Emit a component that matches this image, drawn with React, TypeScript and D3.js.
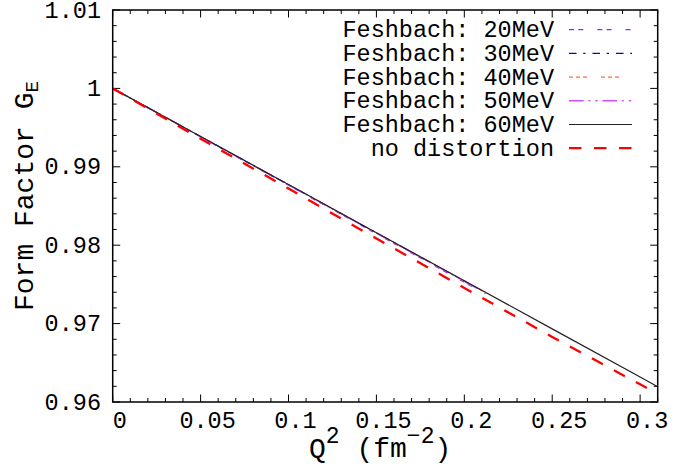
import React from "react";
import * as d3 from "d3";

// ---- data ----
const xTicks = [0, 0.05, 0.1, 0.15, 0.2, 0.25, 0.3];
const xTickLabels = ["0", "0.05", "0.1", "0.15", "0.2", "0.25", "0.3"];
const yTicks = [0.96, 0.97, 0.98, 0.99, 1.0, 1.01];
const yTickLabels = ["0.96", "0.97", "0.98", "0.99", "1", "1.01"];

const q2Fesh20 = [0, 0.05, 0.1, 0.15, 0.2, 0.212];
const geFesh20 = [1.0, 0.99382, 0.98764, 0.98146, 0.97528, 0.9738];
const q2Fesh30 = [0, 0.05, 0.1, 0.15, 0.2, 0.21];
const geFesh30 = [1.0, 0.99386, 0.98771, 0.98157, 0.97542, 0.9742];
const q2Fesh40 = [0, 0.05, 0.1, 0.15, 0.2, 0.21];
const geFesh40 = [1.0, 0.99386, 0.98772, 0.98158, 0.97544, 0.97421];
const q2Fesh50 = [0, 0.05, 0.1, 0.15, 0.2, 0.21];
const geFesh50 = [1.0, 0.99385, 0.9877, 0.98155, 0.9754, 0.97417];
const q2Fesh60 = [0, 0.05, 0.1, 0.15, 0.2, 0.25, 0.3, 0.31];
const geFesh60 = [1.0, 0.99387, 0.98773, 0.9816, 0.97546, 0.96933, 0.96319, 0.96195];
const q2NoDist = [0, 0.05, 0.1, 0.15, 0.2, 0.25, 0.3, 0.305];
const geNoDist = [1.0, 0.99358, 0.98722, 0.98085, 0.97455, 0.9683, 0.96225, 0.96165];

const seriesNames = [
  "Feshbach: 20MeV",
  "Feshbach: 30MeV",
  "Feshbach: 40MeV",
  "Feshbach: 50MeV",
  "Feshbach: 60MeV",
  "no distortion",
];

const styles = [
  { color: "#9a28e0", dash: "5 4.3 5 14", width: 1.2 },
  { color: "#0808b8", dash: "7.5 6.7 2.3 7", width: 1.2 },
  { color: "#ff6a45", dash: "4 3 4 3 4 14", width: 1.2 },
  { color: "#d050f8", dash: "14.7 4.7 2 5 2.3 4.7", width: 1.6 },
  { color: "#222222", dash: "", width: 1.2 },
  { color: "#ff0000", dash: "12.5 12.5", width: 2.3 },
];

const seriesData = [
  [q2Fesh20, geFesh20],
  [q2Fesh30, geFesh30],
  [q2Fesh40, geFesh40],
  [q2Fesh50, geFesh50],
  [q2Fesh60, geFesh60],
  [q2NoDist, geNoDist],
];

const W = 696;
const H = 467;
const L = 112.7;
const R = 657.7;
const T = 10;
const B = 402;
const FONT = "'Courier New', Courier, 'Nimbus Mono PS', 'Liberation Mono', monospace";

export default function App() {
  const x = d3.scaleLinear().domain([0, 0.31]).range([L, R]);
  const y = d3.scaleLinear().domain([0.96, 1.01]).range([B, T]);

  const line = d3
    .line<[number, number]>()
    .x((d) => x(d[0]))
    .y((d) => y(d[1]));

  const xMinor = d3.range(0, 32).map((i) => i * 0.01).filter((v) => v <= 0.31 + 1e-9);
  const yMinor = d3.range(0, 26).map((i) => 0.96 + i * 0.002);

  const isMajorX = (v: number) => Math.abs(v * 20 - Math.round(v * 20)) < 1e-6;
  const isMajorY = (v: number) => Math.abs(v * 100 - Math.round(v * 100)) < 1e-6;

  const legendY0 = 29.7;
  const legendDy = 23.7;

  return (
    <div style={{ position: "absolute", left: 0, top: 0 }}>
      <svg width={W} height={H} style={{ display: "block", background: "#fff" }}>
        <rect x={0} y={0} width={W} height={H} fill="#fff" />
        <defs>
          <clipPath id="plot">
            <rect x={L} y={T} width={R - L} height={B - T} />
          </clipPath>
        </defs>

        {/* ticks */}
        {xMinor.map((v, i) => {
          const len = isMajorX(v) ? 7.5 : 4;
          const px = x(v);
          return (
            <g key={"xt" + i} stroke="#000" strokeWidth={1}>
              <line x1={px} x2={px} y1={B} y2={B - len} />
              <line x1={px} x2={px} y1={T} y2={T + len} />
            </g>
          );
        })}
        {yMinor.map((v, i) => {
          const len = isMajorY(v) ? 7.5 : 4;
          const py = y(v);
          return (
            <g key={"yt" + i} stroke="#000" strokeWidth={1}>
              <line x1={L} x2={L + len} y1={py} y2={py} />
              <line x1={R} x2={R - len} y1={py} y2={py} />
            </g>
          );
        })}

        {/* tick labels */}
        {xTicks.map((v, i) => (
          <text
            key={"xl" + i}
            x={x(v) + 7}
            y={428}
            textAnchor="middle"
            fontFamily={FONT}
            fontSize={23.5}
            fill="#000"
          >
            {xTickLabels[i]}
          </text>
        ))}
        {yTicks.map((v, i) => (
          <text
            key={"yl" + i}
            x={101}
            y={y(v) + 7.5}
            textAnchor="end"
            fontFamily={FONT}
            fontSize={23.5}
            fill="#000"
          >
            {yTickLabels[i]}
          </text>
        ))}

        {/* lines */}
        <g clipPath="url(#plot)">
          {seriesData.map((s, i) => {
            const pts = s[0].map((q, j) => [q, s[1][j]] as [number, number]);
            return (
              <path
                key={"s" + i}
                d={line(pts) || ""}
                fill="none"
                stroke={styles[i].color}
                strokeWidth={styles[i].width}
                strokeDasharray={styles[i].dash || undefined}
              />
            );
          })}
        </g>

        {/* legend */}
        {seriesNames.map((name, i) => {
          const ly = legendY0 + i * legendDy;
          return (
            <g key={"lg" + i}>
              <text
                x={554}
                y={ly + 7.5}
                textAnchor="end"
                fontFamily={FONT}
                fontSize={23.5}
                fill="#000"
              >
                {name}
              </text>
              <line
                x1={569}
                x2={632}
                y1={ly}
                y2={ly}
                stroke={styles[i].color}
                strokeWidth={styles[i].width}
                strokeDasharray={styles[i].dash || undefined}
              />
            </g>
          );
        })}

        {/* frame */}
        <rect x={L} y={T} width={R - L} height={B - T} fill="none" stroke="#000" strokeWidth={1.5} />

        {/* axis titles */}
        <text x={309} y={457} fontFamily={FONT} fontSize={28} fill="#000">
          Q
          <tspan fontSize={23} dy={-14}>2</tspan>
          <tspan fontSize={28} dy={14}>{"\u00a0(fm"}</tspan>
          <tspan fontSize={23} dy={-14}>{"\u22122"}</tspan>
          <tspan fontSize={28} dy={14}>)</tspan>
        </text>
        <text
          transform="translate(33,311) rotate(-90)"
          fontFamily={FONT}
          fontSize={28}
          fill="#000"
        >
          Form Factor G
          <tspan fontSize={19} dy={5}>E</tspan>
        </text>
      </svg>
    </div>
  );
}
